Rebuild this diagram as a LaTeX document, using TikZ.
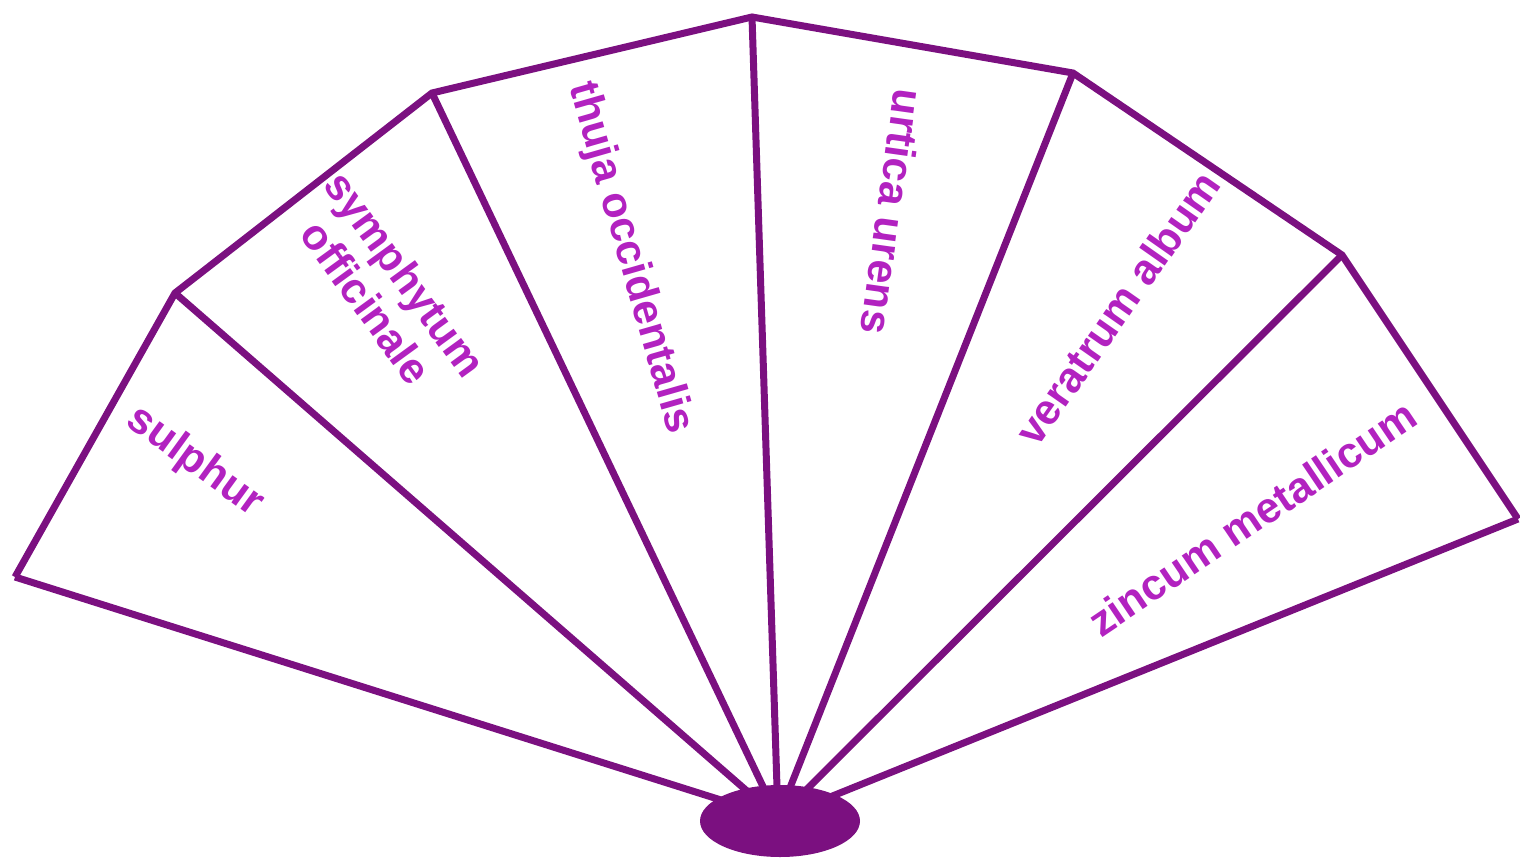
\documentclass[tikz,border=0pt]{standalone}
\usepackage{fontspec}
\setmainfont{Liberation Sans}
\usetikzlibrary{shapes.geometric}
\definecolor{linepurple}{RGB}{123,16,128}
\definecolor{textmagenta}{RGB}{178,34,192}
\begin{document}
\begin{tikzpicture}[x=1pt,y=-1pt,
  fanline/.style={draw=linepurple,line width=7pt,line join=miter},
  label/.style={text=textmagenta,font=\fontsize{43}{48}\selectfont\bfseries,align=center,inner sep=0pt}]
\useasboundingbox (0,0) rectangle (1520,859);
\coordinate (A) at (15,577);
\coordinate (B) at (175,293);
\coordinate (C) at (432,93);
\coordinate (D) at (752,17);
\coordinate (E) at (1073,73);
\coordinate (F) at (1342,255);
\coordinate (G) at (1518,519);
\coordinate (hub) at (778,818);
\draw[fanline] (A) -- (B) -- (C) -- (D) -- (E) -- (F) -- (G);
\foreach \v in {A,B,C,D,E,F,G} \draw[fanline] (hub) -- (\v);
\node[ellipse,fill=linepurple,minimum width=160pt,minimum height=72pt,inner sep=0pt] (base) at (780,821) {};
\node[label,rotate=-36] (sulphur) at (195,462) {sulphur};
\node[label,rotate=-54] (symph) at (386,288) {symphytum\\officinale};
\node[label,rotate=-74] (thuja) at (630,258) {thuja occidentalis};
\node[label,rotate=-98] (urtica) at (893,212) {urtica urens};
\node[label,rotate=55] (veratrum) at (1117,308) {veratrum album};
\node[label,rotate=34] (zincum) at (1252,518) {zincum metallicum};
\end{tikzpicture}
\end{document}
